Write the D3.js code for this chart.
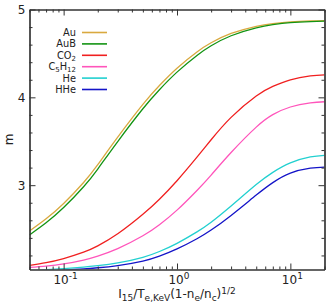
<!DOCTYPE html>
<html>
<head>
<meta charset="utf-8">
<script src="https://cdn.jsdelivr.net/npm/d3@7"></script>
<style>
  body { margin: 0; background: #fff; }
  text { font-family: "DejaVu Sans", sans-serif; fill: #222; }
</style>
</head>
<body>
<div id="chart"></div>
<script>
// x sample points (log axis) and m values
const xVals = [0.05, 0.07, 0.1, 0.15, 0.2, 0.3, 0.5, 0.7, 1, 1.5, 2, 3, 5, 7, 10, 15, 20];
const au    = [2.478, 2.617, 2.792, 3.031, 3.234, 3.547, 3.92, 4.135, 4.332, 4.517, 4.621, 4.727, 4.809, 4.84, 4.859, 4.87, 4.874];
const auB   = [2.433, 2.571, 2.745, 2.982, 3.184, 3.497, 3.87, 4.087, 4.287, 4.477, 4.587, 4.701, 4.791, 4.827, 4.85, 4.863, 4.868];
const co2   = [2.086, 2.118, 2.165, 2.237, 2.309, 2.446, 2.668, 2.84, 3.051, 3.319, 3.517, 3.772, 4.016, 4.124, 4.2, 4.244, 4.256];
const c5h12 = [2.063, 2.079, 2.104, 2.148, 2.193, 2.278, 2.424, 2.55, 2.716, 2.94, 3.115, 3.372, 3.661, 3.803, 3.89, 3.937, 3.95];
const he    = [2.027, 2.037, 2.05, 2.068, 2.084, 2.115, 2.179, 2.245, 2.338, 2.468, 2.578, 2.763, 3.007, 3.146, 3.254, 3.321, 3.34];
const hhe   = [2.01, 2.02, 2.032, 2.047, 2.06, 2.085, 2.136, 2.192, 2.274, 2.39, 2.489, 2.656, 2.887, 3.029, 3.137, 3.193, 3.206];

const seriesData = [au, auB, co2, c5h12, he, hhe];
const colors = ["#d9a93f", "#139413", "#f02020", "#ff55bb", "#22d0d0", "#1414c8"];

const yMajor = [3, 4, 5];
const xMajor = [0.1, 1, 10];
const xExp = [-1, 0, 1];

const width = 332, height = 305;
const margin = { top: 9.5, right: 7.5, bottom: 35.5, left: 29.5 };

const svg = d3.select("#chart").append("svg")
    .attr("width", width)
    .attr("height", height);

const x = d3.scaleLog()
    .domain([0.05, 20])
    .range([margin.left, width - margin.right]);

const y = d3.scaleLinear()
    .domain([2.04, 5])
    .range([height - margin.bottom, margin.top]);

// clip for curves
svg.append("clipPath").attr("id", "clip")
  .append("rect")
    .attr("x", margin.left).attr("y", margin.top)
    .attr("width", x.range()[1] - margin.left)
    .attr("height", y.range()[0] - margin.top);

const line = d3.line()
    .x(d => x(d[0]))
    .y(d => y(d[1]))
    .curve(d3.curveNatural);

seriesData.forEach((vals, i) => {
    svg.append("path")
        .datum(xVals.map((xv, j) => [xv, vals[j]]))
        .attr("clip-path", "url(#clip)")
        .attr("fill", "none")
        .attr("stroke", colors[i])
        .attr("stroke-width", 1.3)
        .attr("d", line);
});

// minor ticks
const xMinor = [];
[0.01, 0.1, 1, 10].forEach(dec => {
    for (let k = 2; k <= 9; k++) {
        const v = dec * k;
        if (v >= 0.05 && v <= 20) xMinor.push(v);
    }
});
const yMinor = d3.range(2.2, 5, 0.2).filter(v => !yMajor.some(m => Math.abs(m - v) < 1e-6));

const x0 = margin.left, x1 = x.range()[1];
const y0 = y.range()[0], y1 = margin.top;

// axes with inward ticks, labels drawn separately
function styleAxis(g) {
    g.selectAll("text").remove();
    g.select(".domain").attr("stroke", "#333").attr("stroke-width", 1.2);
    g.selectAll(".tick line").attr("stroke", "#333");
}

svg.append("g").attr("transform", `translate(0,${y0})`)
    .call(d3.axisBottom(x).tickValues(xMajor).tickSize(-6).tickSizeOuter(0)).call(styleAxis);
svg.append("g").attr("transform", `translate(0,${y0})`)
    .call(d3.axisBottom(x).tickValues(xMinor).tickSize(-3).tickSizeOuter(0)).call(styleAxis);
svg.append("g").attr("transform", `translate(0,${y1})`)
    .call(d3.axisTop(x).tickValues(xMajor).tickSize(-6).tickSizeOuter(0)).call(styleAxis);
svg.append("g").attr("transform", `translate(0,${y1})`)
    .call(d3.axisTop(x).tickValues(xMinor).tickSize(-3).tickSizeOuter(0)).call(styleAxis);

svg.append("g").attr("transform", `translate(${x0},0)`)
    .call(d3.axisLeft(y).tickValues(yMajor).tickSize(-6).tickSizeOuter(0)).call(styleAxis);
svg.append("g").attr("transform", `translate(${x0},0)`)
    .call(d3.axisLeft(y).tickValues(yMinor).tickSize(-3).tickSizeOuter(0)).call(styleAxis);
svg.append("g").attr("transform", `translate(${x1},0)`)
    .call(d3.axisRight(y).tickValues(yMajor).tickSize(-6).tickSizeOuter(0)).call(styleAxis);
svg.append("g").attr("transform", `translate(${x1},0)`)
    .call(d3.axisRight(y).tickValues(yMinor).tickSize(-3).tickSizeOuter(0)).call(styleAxis);

// y tick labels
svg.selectAll(".ylab").data(yMajor).enter().append("text")
    .attr("x", x0 - 4)
    .attr("y", d => y(d) + 4.5)
    .attr("text-anchor", "end")
    .attr("font-size", 12)
    .text(d => d);

// x tick labels 10^n
xMajor.forEach((v, i) => {
    const t = svg.append("text")
        .attr("x", x(v) + 2)
        .attr("y", y0 + 14.5)
        .attr("text-anchor", "middle")
        .attr("font-size", 12);
    t.append("tspan").text("10");
    t.append("tspan").attr("dy", -5).attr("font-size", 9).text(xExp[i]);
});

// axis titles
svg.append("text")
    .attr("transform", `translate(13,${(y0 + y1) / 2}) rotate(-90)`)
    .attr("text-anchor", "middle")
    .attr("font-size", 12)
    .text("m");

const xt = svg.append("text")
    .attr("x", (x0 + x1) / 2)
    .attr("y", 298)
    .attr("text-anchor", "middle")
    .attr("font-size", 12);
const parts = [
    ["I", 0], ["15", 1], ["/T", 0], ["e,KeV", 1], ["(1-n", 0], ["e", 1], ["/n", 0], ["c", 1], [")", 0], ["1/2", -1]
];
let prev = 0;
parts.forEach(([s, k]) => {
    const shift = k === 1 ? 3 : (k === -1 ? -4.5 : 0);
    xt.append("tspan")
        .attr("dy", shift - prev)
        .attr("font-size", k === 0 ? 12 : 9)
        .text(s);
    prev = shift;
});

// legend
const legendNames = [["Au"], ["AuB"], ["CO", "2"], ["C", "5", "H", "12"], ["He"], ["HHe"]];
legendNames.forEach((nm, i) => {
    const ly = 32.5 + i * 11.4;
    svg.append("line")
        .attr("x1", 82).attr("x2", 107)
        .attr("y1", ly).attr("y2", ly)
        .attr("stroke", colors[i])
        .attr("stroke-width", 1.6);
    const t = svg.append("text")
        .attr("x", 76)
        .attr("y", ly + 3.5)
        .attr("text-anchor", "end")
        .attr("font-size", 9.8);
    nm.forEach((s, j) => {
        const sub = j % 2 === 1;
        t.append("tspan")
            .attr("dy", j === 0 ? 0 : (sub ? 1.8 : -1.8))
            .attr("font-size", sub ? 7 : 9.8)
            .text(s);
    });
});
</script>
</body>
</html>
